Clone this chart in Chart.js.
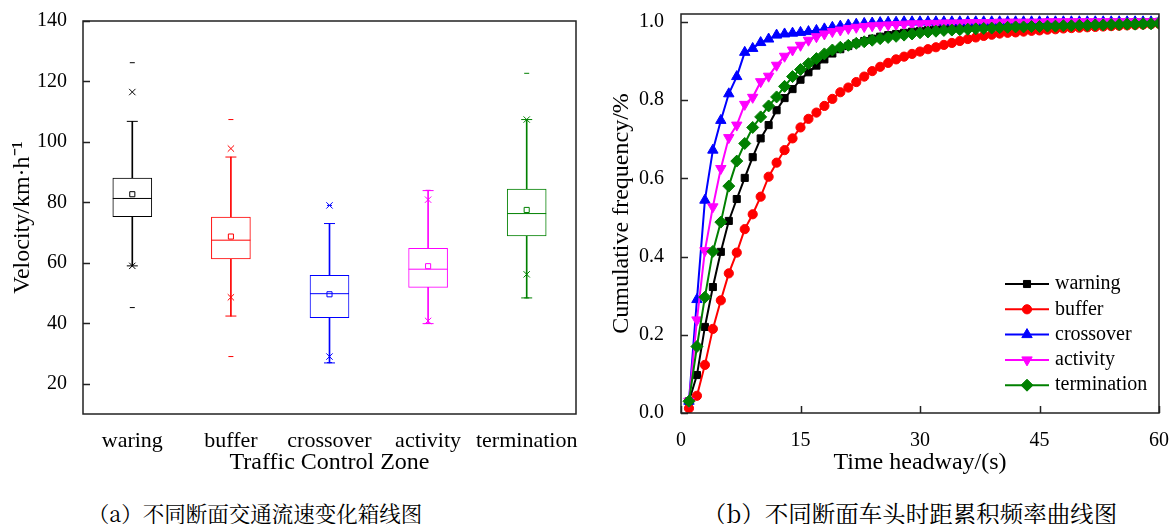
<!DOCTYPE html>
<html>
<head>
<meta charset="utf-8">
<script src="https://cdn.jsdelivr.net/npm/chart.js@4.4.1/dist/chart.umd.min.js"></script>
<style>
  body { margin: 0; background: #fff; width: 1173px; height: 524px; position: relative; overflow: hidden; }
  #left { position: absolute; left: 0; top: 0; }
  #right { position: absolute; left: 600px; top: 0; }
  .cap { position: absolute; top: 499px; width: 500px; text-align: center; line-height: 28px;
         font-family: "Noto Serif CJK SC", "Noto Sans CJK SC", sans-serif; color: #000; }
</style>
</head>
<body>
<canvas id="left" width="600" height="480"></canvas>
<canvas id="right" width="573" height="480"></canvas>
<div class="cap" style="left:5px; font-size:21.5px">（a）不同断面交通流速变化箱线图</div>
<div class="cap" style="left:660px; font-size:23.5px">（b）不同断面车头时距累积频率曲线图</div>
<script>
// ---- box plot data (velocity, km/h) ----
const zones = ['waring', 'buffer', 'crossover', 'activity', 'termination'];
const zoneColors = ['#000000', '#ff0000', '#0000ff', '#ff00ff', '#008000'];
const boxQ1 = [75.3, 61.3, 41.9, 51.9, 68.9];
const boxQ3 = [88.0, 75.1, 55.9, 64.8, 84.4];
const boxMedian = [81.3, 67.5, 49.8, 57.9, 76.3];
const boxMean = [82.7, 68.7, 49.6, 58.9, 77.5];
const whiskerLow = [59.0, 42.4, 26.9, 39.9, 48.4];
const whiskerHigh = [106.8, 95.0, 73.0, 83.9, 107.4];
const pctLow = [59.0, 48.6, 29.0, 40.8, 56.2];
const pctHigh = [116.5, 97.8, 79.0, 80.9, 107.4];
const minVal = [45.2, 29.0, 27.0, 40.0, 48.4];
const maxVal = [126.2, 107.4, 79.0, 84.0, 122.7];
const velocityTicks = [20, 40, 60, 80, 100, 120, 140];

// ---- cumulative frequency data ----
const headway = [1, 2, 3, 4, 5, 6, 7, 8, 9, 10, 11, 12, 13, 14, 15, 16, 17, 18, 19, 20,
  21, 22, 23, 24, 25, 26, 27, 28, 29, 30, 31, 32, 33, 34, 35, 36, 37, 38, 39, 40,
  41, 42, 43, 44, 45, 46, 47, 48, 49, 50, 51, 52, 53, 54, 55, 56, 57, 58, 59, 60];
const warning = [0.030, 0.097, 0.220, 0.322, 0.412, 0.491, 0.547, 0.601, 0.654, 0.702,
  0.736, 0.774, 0.805, 0.828, 0.852, 0.871, 0.888, 0.904, 0.919, 0.930,
  0.938, 0.945, 0.951, 0.957, 0.962, 0.966, 0.969, 0.972, 0.975, 0.977,
  0.979, 0.981, 0.983, 0.984, 0.985, 0.986, 0.987, 0.988, 0.989, 0.990,
  0.991, 0.992, 0.992, 0.993, 0.994, 0.994, 0.995, 0.995, 0.996, 0.996,
  0.997, 0.997, 0.997, 0.998, 0.998, 0.998, 0.999, 0.999, 0.999, 1.000];
const buffer = [0.012, 0.044, 0.123, 0.215, 0.288, 0.357, 0.410, 0.470, 0.508, 0.553,
  0.604, 0.640, 0.672, 0.702, 0.730, 0.752, 0.768, 0.785, 0.803, 0.820,
  0.832, 0.846, 0.860, 0.874, 0.885, 0.895, 0.904, 0.911, 0.918, 0.924,
  0.930, 0.935, 0.941, 0.946, 0.951, 0.956, 0.960, 0.964, 0.967, 0.970,
  0.972, 0.973, 0.975, 0.977, 0.978, 0.980, 0.981, 0.983, 0.984, 0.985,
  0.986, 0.987, 0.988, 0.989, 0.990, 0.991, 0.992, 0.993, 0.994, 0.995];
const crossover = [0.030, 0.290, 0.544, 0.672, 0.748, 0.816, 0.860, 0.922, 0.932, 0.947,
  0.956, 0.966, 0.969, 0.971, 0.973, 0.975, 0.978, 0.982, 0.986, 0.989,
  0.992, 0.994, 0.996, 0.997, 0.998, 0.999, 0.999, 1.000, 1.000, 1.000,
  1.000, 1.000, 1.000, 1.000, 1.000, 1.000, 1.000, 1.000, 1.000, 1.000,
  1.000, 1.000, 1.000, 1.000, 1.000, 1.000, 1.000, 1.000, 1.000, 1.000,
  1.000, 1.000, 1.000, 1.000, 1.000, 1.000, 1.000, 1.000, 1.000, 1.000];
const activity = [0.030, 0.238, 0.415, 0.527, 0.625, 0.704, 0.736, 0.789, 0.807, 0.847,
  0.861, 0.889, 0.912, 0.928, 0.940, 0.953, 0.962, 0.969, 0.975, 0.979,
  0.983, 0.986, 0.988, 0.990, 0.991, 0.992, 0.993, 0.994, 0.995, 0.995,
  0.996, 0.996, 0.997, 0.997, 0.997, 0.998, 0.998, 0.998, 0.998, 0.999,
  0.999, 0.999, 0.999, 0.999, 0.999, 1.000, 1.000, 1.000, 1.000, 1.000,
  1.000, 1.000, 1.000, 1.000, 1.000, 1.000, 1.000, 1.000, 1.000, 1.000];
const termination = [0.030, 0.170, 0.296, 0.413, 0.488, 0.580, 0.644, 0.689, 0.730, 0.757,
  0.785, 0.808, 0.835, 0.860, 0.878, 0.893, 0.906, 0.918, 0.928, 0.935,
  0.940, 0.945, 0.949, 0.953, 0.957, 0.960, 0.963, 0.966, 0.969, 0.972,
  0.974, 0.976, 0.978, 0.979, 0.980, 0.981, 0.982, 0.983, 0.984, 0.985,
  0.986, 0.987, 0.987, 0.988, 0.988, 0.989, 0.989, 0.990, 0.990, 0.991,
  0.991, 0.992, 0.992, 0.993, 0.993, 0.994, 0.994, 0.995, 0.995, 0.996];
const headwayTicks = [0, 15, 30, 45, 60];
const freqTicks = [0, 0.2, 0.4, 0.6, 0.8, 1.0];

const serif = "'Liberation Serif', 'Times New Roman', serif";
Chart.defaults.font.family = serif;
Chart.defaults.color = '#000';

// frame around the plot area, with inward tick marks
const framePlugin = {
    id: 'frame',
    defaults: { tickX: false },
    afterDraw(chart, args, opts) {
        const a = chart.chartArea;
        const ctx = chart.ctx;
        ctx.save();
        ctx.strokeStyle = '#222';
        ctx.lineWidth = 1.5;
        ctx.beginPath();
        const ys = chart.scales.y;
        ys.ticks.forEach(t => {
            const y = Math.round(ys.getPixelForValue(t.value)) + 0.5;
            ctx.moveTo(a.left, y);
            ctx.lineTo(a.left + 7, y);
        });
        if (opts.tickX) {
            const xs = chart.scales.x;
            xs.ticks.forEach(t => {
                const x = Math.round(xs.getPixelForValue(t.value)) + 0.5;
                ctx.moveTo(x, a.bottom);
                ctx.lineTo(x, a.bottom - 7);
            });
        }
        ctx.stroke();
        ctx.strokeRect(a.left, a.top, a.right - a.left, a.bottom - a.top);
        ctx.restore();
    }
};

// no automatic label padding, so the plot area sits where the layout says
function noEdgePadding(scale) {
    scale.paddingTop = 0;
    scale.paddingBottom = 0;
    scale.paddingLeft = 0;
    scale.paddingRight = 0;
}

function markers(label, data, style, radius, fill, order) {
    return {
        type: 'line', label: label, data: data, showLine: false, order: order,
        pointStyle: style, pointRadius: radius, pointHoverRadius: radius,
        pointBorderColor: zoneColors, pointBackgroundColor: fill || zoneColors,
        pointBorderWidth: 1
    };
}

new Chart(document.getElementById('left'), {
    type: 'bar',
    data: {
        labels: zones,
        datasets: [
            markers('median', boxMedian, 'line', 19.5, null, 1),
            markers('mean', boxMean, 'rect', 3.6, '#fff', 1),
            markers('1%', pctLow, 'crossRot', 4.5, null, 1),
            markers('99%', pctHigh, 'crossRot', 4.5, null, 1),
            markers('whisker low', whiskerLow, 'line', 5.5, null, 1),
            markers('whisker high', whiskerHigh, 'line', 5.5, null, 1),
            markers('min', minVal, 'line', 2.5, null, 1),
            markers('max', maxVal, 'line', 2.5, null, 1),
            {
                type: 'bar', label: 'box',
                data: zones.map((z, i) => [boxQ1[i], boxQ3[i]]),
                backgroundColor: '#fff', borderColor: zoneColors, borderWidth: 1,
                borderSkipped: false, barThickness: 39, grouped: false, order: 2
            },
            {
                type: 'bar', label: 'whisker',
                data: zones.map((z, i) => [whiskerLow[i], whiskerHigh[i]]),
                backgroundColor: zoneColors, borderWidth: 0,
                barThickness: 1, grouped: false, order: 3
            }
        ]
    },
    options: {
        responsive: false,
        animation: false,
        devicePixelRatio: 1,
        layout: { padding: { left: 0, top: 21, right: 24, bottom: 0 } },
        plugins: { legend: { display: false }, tooltip: { enabled: false } },
        scales: {
            x: {
                grid: { display: false },
                border: { display: false },
                ticks: { font: { size: 22 }, padding: 6, maxRotation: 0, autoSkip: false },
                title: { display: true, text: 'Traffic Control Zone', font: { size: 24 }, padding: { top: 0, bottom: 2.6 } },
                afterFit: function(scale) { scale.height = 66; noEdgePadding(scale); }
            },
            y: {
                min: 10,
                max: 140,
                grid: { display: false },
                border: { display: false },
                ticks: { font: { size: 20 }, padding: 8 },
                afterBuildTicks: function(scale) { scale.ticks = velocityTicks.map(v => ({ value: v })); },
                title: { display: true, text: 'Velocity/km·h⁻¹', font: { size: 24 }, padding: { top: 8.6, bottom: 0 } },
                afterFit: function(scale) { scale.width = 83; noEdgePadding(scale); }
            }
        }
    },
    plugins: [framePlugin]
});

// legend drawn in the lower right corner of the plot
const cornerLegend = {
    id: 'cornerLegend',
    afterDatasetsDraw(chart) {
        const ctx = chart.ctx;
        const x0 = chart.chartArea.right - 154;
        const y0 = 284;
        chart.data.datasets.forEach((ds, i) => {
            const y = y0 + i * 25.3;
            ctx.save();
            ctx.strokeStyle = ds.borderColor;
            ctx.fillStyle = ds.backgroundColor;
            ctx.lineWidth = 2;
            ctx.beginPath();
            ctx.moveTo(x0, y);
            ctx.lineTo(x0 + 44, y);
            ctx.stroke();
            ctx.lineWidth = 1;
            Chart.helpers.drawPoint(ctx, {
                pointStyle: ds.pointStyle, rotation: ds.pointRotation || 0,
                radius: ds.pointRadius, borderWidth: 1
            }, x0 + 22, y);
            ctx.fillStyle = '#000';
            ctx.font = '20px ' + serif;
            ctx.textBaseline = 'middle';
            ctx.fillText(ds.label, x0 + 50, y);
            ctx.restore();
        });
    }
};

function series(label, data, color, style, radius, rotation, order) {
    return {
        label: label, data: data, order: order,
        borderColor: color, backgroundColor: color, borderWidth: 2, tension: 0,
        pointStyle: style, pointRadius: radius, pointHoverRadius: radius,
        pointRotation: rotation, pointBorderWidth: 1
    };
}

new Chart(document.getElementById('right'), {
    type: 'line',
    data: {
        labels: headway,
        datasets: [
            series('warning', warning, '#000000', 'rect', 5, 0, 5),
            series('buffer', buffer, '#ff0000', 'circle', 4.6, 0, 4),
            series('crossover', crossover, '#0000ff', 'triangle', 6, 0, 3),
            series('activity', activity, '#ff00ff', 'triangle', 6, 180, 2),
            series('termination', termination, '#008000', 'rectRot', 6, 0, 1)
        ]
    },
    options: {
        responsive: false,
        animation: false,
        devicePixelRatio: 1,
        layout: { padding: { left: 0, top: 14, right: 14, bottom: 0 } },
        plugins: { legend: { display: false }, tooltip: { enabled: false }, frame: { tickX: true } },
        scales: {
            x: {
                type: 'linear',
                min: 0,
                max: 60,
                grid: { display: false },
                border: { display: false },
                ticks: { font: { size: 20 }, padding: 8, maxRotation: 0 },
                afterBuildTicks: function(scale) { scale.ticks = headwayTicks.map(v => ({ value: v })); },
                title: { display: true, text: 'Time headway/(s)', font: { size: 24 }, padding: { top: 0, bottom: 2.6 } },
                afterFit: function(scale) { scale.height = 67; noEdgePadding(scale); }
            },
            y: {
                min: 0,
                max: 1.02,
                grid: { display: false },
                border: { display: false },
                ticks: { font: { size: 20 }, padding: 9, callback: v => v.toFixed(1) },
                afterBuildTicks: function(scale) { scale.ticks = freqTicks.map(v => ({ value: v })); },
                title: { display: true, text: 'Cumulative frequency/%', font: { size: 24 }, padding: { top: 7.6, bottom: 0 } },
                afterFit: function(scale) { scale.width = 81; noEdgePadding(scale); }
            }
        }
    },
    plugins: [framePlugin, cornerLegend]
});
</script>
</body>
</html>
